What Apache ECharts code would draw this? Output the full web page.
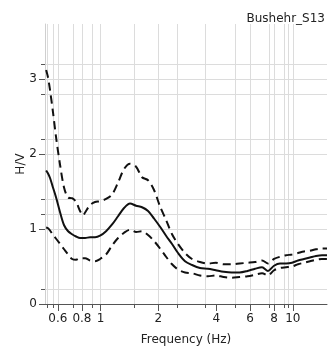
<!DOCTYPE html>
<html>
<head>
<meta charset="utf-8">
<script src="https://cdn.jsdelivr.net/npm/echarts@6/dist/echarts.min.js"></script>
<style>html,body{margin:0;padding:0;background:#fff;}#c{width:336px;height:354px;}</style>
</head>
<body>
<div id="c"></div>
<script>
// Frequency (Hz) of each sample
const frequency = [0.521,0.533,0.546,0.566,0.587,0.616,0.646,0.678,0.711,0.746,0.782,0.811,0.831,0.882,0.936,0.994,1.068,1.148,1.233,1.325,1.423,1.530,1.643,1.766,1.897,2.039,2.191,2.354,2.529,2.750,2.991,3.289,3.616,3.976,4.372,4.807,5.284,5.810,6.362,6.918,7.430,7.983,8.579,9.218,9.904,10.64,11.43,12.28,13.20,14.18,15.06];
// mean H/V
const hvMean  = [1.78,1.74,1.68,1.55,1.42,1.22,1.05,0.97,0.93,0.90,0.88,0.88,0.88,0.89,0.89,0.91,0.97,1.06,1.17,1.28,1.34,1.31,1.29,1.24,1.14,1.03,0.91,0.80,0.68,0.57,0.52,0.48,0.47,0.45,0.43,0.42,0.42,0.44,0.47,0.49,0.44,0.51,0.54,0.54,0.55,0.58,0.60,0.62,0.64,0.65,0.65];
// mean + std
const hvUpper = [3.12,3.02,2.85,2.55,2.22,1.85,1.55,1.42,1.41,1.36,1.24,1.18,1.22,1.32,1.36,1.37,1.40,1.46,1.62,1.80,1.87,1.83,1.69,1.65,1.52,1.30,1.12,0.93,0.80,0.68,0.60,0.56,0.54,0.55,0.53,0.53,0.54,0.55,0.56,0.58,0.54,0.60,0.63,0.65,0.66,0.68,0.70,0.71,0.73,0.74,0.74];
// mean - std
const hvLower = [1.02,1.01,0.98,0.92,0.87,0.80,0.73,0.66,0.60,0.59,0.61,0.61,0.61,0.58,0.57,0.60,0.66,0.78,0.88,0.95,0.99,0.96,0.97,0.92,0.84,0.74,0.63,0.53,0.46,0.42,0.41,0.38,0.37,0.38,0.36,0.35,0.36,0.37,0.39,0.41,0.38,0.45,0.48,0.49,0.50,0.53,0.55,0.57,0.59,0.60,0.60];

const xMajorTicks = [0.6,0.8,1,2,4,6,8,10];
const xMinorTicks = [0.53,0.57,0.6,0.72,0.8,0.9,1,1.5,2,2.5,3.5,5,6,7.5,8,9,9.5,10];
const yMajorTicks = [0,1,2,3];
const yMinorTicks = [0.2,1,1.2,1.4,2,2.2,2.8,3,3.2];

const title = 'Bushehr_S13';
const xName = 'Frequency (Hz)';
const yName = 'H/V';

const FONT = 'DejaVu Sans';
const X_MIN = 0.514, X_MAX = 15.06, Y_MIN = 0, Y_MAX = 3.733;

function pairs(vals){ return frequency.map((f,i)=>[f, vals[i]]); }

const chart = echarts.init(document.getElementById('c'), null, {renderer:'canvas'});
chart.setOption({
  animation:false,
  backgroundColor:'#fff',
  title:{text:title, right:6, top:8, textStyle:{fontFamily:FONT, fontSize:12, fontWeight:'normal', color:'#222'}},
  grid:{left:45, right:9, top:24, bottom:50},
  xAxis:[
    {type:'log', min:X_MIN, max:X_MAX, logBase:10,
     axisLine:{show:true, lineStyle:{color:'#555', width:1}},
     axisTick:{show:true, length:4, customValues:xMinorTicks, lineStyle:{color:'#555'}},
     axisLabel:{show:false},
     splitLine:{show:true, lineStyle:{color:'#dcdcdc', width:1}},
     minorTick:{show:false}, minorSplitLine:{show:false}},
    {type:'log', min:X_MIN, max:X_MAX, logBase:10, position:'bottom',
     name:xName, nameLocation:'middle', nameGap:30, nameMoveOverlap:false,
     nameTextStyle:{fontFamily:FONT, fontSize:12, color:'#222'},
     axisLine:{show:false},
     axisTick:{show:true, length:7, customValues:xMajorTicks, lineStyle:{color:'#555'}},
     axisLabel:{show:true, customValues:xMajorTicks, margin:9, fontFamily:FONT, fontSize:12, color:'#222', formatter:v=>String(+v.toPrecision(6))},
     splitLine:{show:false}}
  ],
  yAxis:[
    {type:'value', min:Y_MIN, max:Y_MAX,
     axisLine:{show:true, lineStyle:{color:'#cfcfcf'}},
     axisTick:{show:true, length:4, customValues:yMinorTicks, lineStyle:{color:'#555'}},
     axisLabel:{show:false},
     splitLine:{show:true, lineStyle:{color:'#dcdcdc', width:1}}},
    {type:'value', min:Y_MIN, max:Y_MAX, position:'left',
     name:yName, nameLocation:'middle', nameGap:18, nameRotate:90, nameMoveOverlap:false,
     nameTextStyle:{fontFamily:FONT, fontSize:12, color:'#222'},
     axisLine:{show:false},
     axisTick:{show:true, length:6, customValues:yMajorTicks, lineStyle:{color:'#555'}},
     axisLabel:{show:true, customValues:yMajorTicks, margin:8, fontFamily:FONT, fontSize:12, color:'#222'},
     splitLine:{show:false}}
  ],
  series:[
    {type:'line', name:'upper', data:pairs(hvUpper), xAxisIndex:0, yAxisIndex:0, showSymbol:false, smooth:0.3,
     lineStyle:{color:'#111', width:2, type:[8,5]}},
    {type:'line', name:'mean', data:pairs(hvMean), xAxisIndex:0, yAxisIndex:0, showSymbol:false, smooth:0.3,
     lineStyle:{color:'#111', width:2}},
    {type:'line', name:'lower', data:pairs(hvLower), xAxisIndex:0, yAxisIndex:0, showSymbol:false, smooth:0.3,
     lineStyle:{color:'#111', width:2, type:[8,5]}}
  ]
});
</script>
</body>
</html>
